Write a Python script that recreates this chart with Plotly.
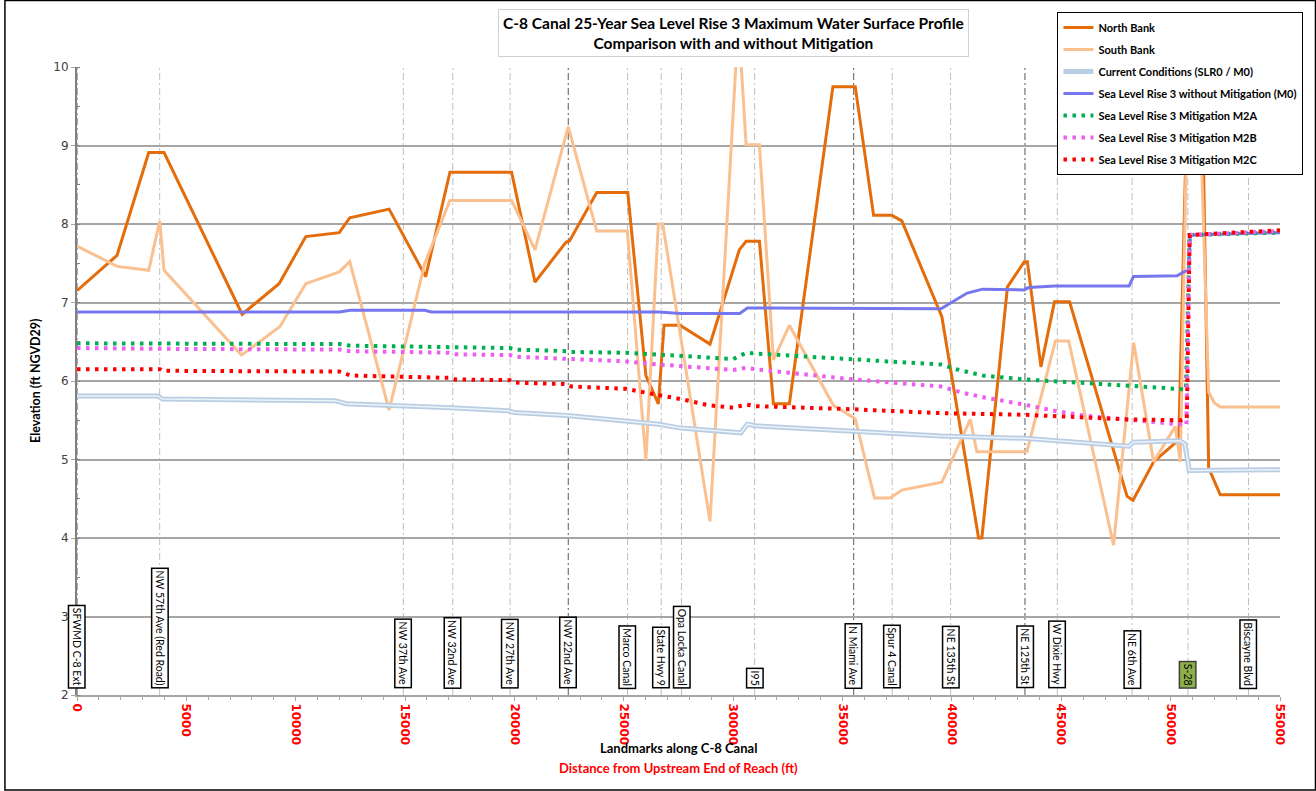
import plotly.graph_objects as go

# ---------------- data ----------------
north_x = [0, 1830, 3280, 3980, 7550, 9240, 10460, 11990, 12470, 14270, 15940, 17050, 19870, 20940,
           22360, 22510, 23760, 25180, 26010, 26580, 26840, 27570, 28940, 30280, 30590, 31200, 31840,
           32570, 34560, 35580, 36420, 37250, 37710, 39540, 41220, 41370, 42540, 43310, 43450, 44070,
           44690, 45380, 48010, 48280, 49220, 50370, 50760, 51450, 51740, 52270, 55000]
north_y = [7.15, 7.60, 8.91, 8.91, 6.85, 7.24, 7.84, 7.89, 8.08, 8.19, 7.33, 8.66, 8.66, 7.26,
           7.77, 7.78, 8.40, 8.40, 6.07, 5.71, 6.71, 6.71, 6.47, 7.67, 7.78, 7.78, 5.71,
           5.71, 9.75, 9.75, 8.11, 8.11, 8.04, 6.82, 4.00, 4.00, 7.20, 7.52, 7.52, 6.18,
           7.01, 7.01, 4.53, 4.48, 4.97, 5.25, 9.60, 9.60, 4.89, 4.55, 4.55]

south_x = [0, 1830, 3280, 3780, 3980, 7520, 9270, 10460, 11990, 12470, 14270, 15900, 17050, 19870,
           20940, 22460, 23760, 25160, 26010, 26580, 26780, 28940, 30240, 30590, 31200, 31840, 32570,
           34580, 35580, 36460, 37180, 37710, 39540, 40840, 41140, 43430, 44730, 45340, 47390, 48310,
           49220, 50210, 50440, 50780, 51300, 51740, 52000, 52270, 55000]
south_y = [7.72, 7.46, 7.41, 8.04, 7.41, 6.33, 6.69, 7.24, 7.39, 7.52, 5.63, 7.50, 8.30, 8.30,
           7.67, 9.24, 7.91, 7.91, 4.99, 8.00, 8.00, 4.21, 10.60, 9.01, 9.01, 6.27, 6.71,
           5.69, 5.52, 4.51, 4.51, 4.61, 4.71, 5.51, 5.10, 5.10, 6.51, 6.51, 3.91, 6.49,
           4.97, 5.42, 4.97, 9.80, 9.80, 5.86, 5.72, 5.67, 5.67]

current_x = [0, 3700, 3900, 11800, 12300, 14900, 15100, 17100, 19700, 20000, 22400, 25100, 26600,
             27600, 30200, 30350, 30650, 31000, 35500, 39500, 43300, 48100, 48300, 50400, 50650,
             50850, 55000]
current_y = [5.81, 5.81, 5.77, 5.75, 5.71, 5.69, 5.68, 5.66, 5.62, 5.60, 5.56, 5.49, 5.45,
             5.40, 5.35, 5.34, 5.45, 5.43, 5.36, 5.30, 5.27, 5.17, 5.22, 5.24, 5.20,
             4.86, 4.87]

m0_x = [0, 3800, 12000, 12500, 15900, 16200, 26600, 27600, 30300, 30650, 35500, 39500, 40700,
        41400, 43300, 43500, 44700, 48100, 48300, 50300, 50600, 50820, 50900, 55000]
m0_y = [6.88, 6.88, 6.88, 6.90, 6.90, 6.88, 6.88, 6.86, 6.86, 6.93, 6.92, 6.92, 7.12,
        7.17, 7.16, 7.19, 7.21, 7.21, 7.33, 7.34, 7.39, 7.41, 7.86, 7.89]

m2a_x = [0, 3800, 3900, 12000, 12500, 17000, 17300, 19800, 20000, 22400, 22600, 25100, 26600,
         27600, 30000, 30600, 31000, 35500, 39500, 40200, 41400, 43300, 44700, 48100, 50300,
         50700, 50870, 55000]
m2a_y = [6.48, 6.48, 6.47, 6.47, 6.45, 6.44, 6.43, 6.42, 6.40, 6.38, 6.37, 6.36, 6.33,
         6.32, 6.28, 6.36, 6.35, 6.27, 6.21, 6.15, 6.07, 6.02, 6.00, 5.94, 5.90,
         5.89, 7.86, 7.89]

m2b_x = [0, 3800, 3900, 12000, 12500, 15000, 17000, 17300, 19800, 20000, 22400, 25100, 26600,
         27600, 30000, 30600, 31000, 35500, 39500, 40500, 41500, 43300, 44700, 46000, 48100,
         50300, 50720, 50870, 55000]
m2b_y = [6.42, 6.42, 6.41, 6.40, 6.38, 6.37, 6.36, 6.34, 6.33, 6.31, 6.28, 6.25, 6.21,
         6.19, 6.14, 6.17, 6.15, 6.02, 5.93, 5.85, 5.79, 5.70, 5.62, 5.56, 5.51,
         5.45, 5.44, 7.86, 7.91]

m2c_x = [0, 3800, 3900, 12000, 12500, 15000, 17000, 17300, 19800, 20000, 22400, 22600, 25100,
         26600, 27600, 28900, 30000, 30600, 31000, 35500, 39500, 43300, 48100, 50500, 50740,
         50870, 55000]
m2c_y = [6.15, 6.15, 6.13, 6.12, 6.07, 6.06, 6.04, 6.02, 6.01, 5.98, 5.96, 5.93, 5.90,
         5.82, 5.77, 5.69, 5.66, 5.70, 5.68, 5.64, 5.59, 5.57, 5.51, 5.50, 5.52,
         7.86, 7.92]

landmark_names = ["SFWMD C-8 Ext", "NW 57th Ave (Red Road)", "NW 37th Ave", "NW 32nd Ave",
                  "NW 27th Ave", "NW 22nd Ave", "Marco Canal", "State Hwy 9", "Opa Locka Canal",
                  "I95", "N Miami Ave", "Spur 4 Canal", "NE 135th St", "NE 125th St",
                  "W Dixie Hwy", "NE 6th Ave", "S-28", "Biscayne Blvd"]
landmark_x = [0, 3780, 14920, 17180, 19800, 22460, 25170, 26710, 27640, 30980, 35510, 37270,
              39940, 43340, 44820, 48240, 50790, 53560]

x_ticks = list(range(0, 55001, 5000))
y_ticks = list(range(2, 11))

title_text = ("C-8 Canal 25-Year Sea Level Rise 3 Maximum Water Surface Profile<br>"
              "Comparison with and without Mitigation")

# ---------------- figure ----------------
FONT = "Lato"
fig = go.Figure()

# landmark dashed lines
dark_marks = {"NW 22nd Ave", "N Miami Ave", "NE 125th St", "SFWMD C-8 Ext"}
for name, lx in zip(landmark_names, landmark_x):
    fig.add_shape(type="line", xref="x", yref="y", x0=lx, x1=lx, y0=2, y1=10,
                  line=dict(color="#595959" if name in dark_marks else "#BFBFBF",
                            width=1, dash="7px,3px,2px,3px"), layer="below")

fig.add_trace(go.Scatter(x=north_x, y=north_y, mode="lines", name="North Bank",
                         line=dict(color="#E46C0A", width=3), legendgroup="a", legendrank=1))
fig.add_trace(go.Scatter(x=south_x, y=south_y, mode="lines", name="South Bank",
                         line=dict(color="#FAC090", width=3), legendgroup="b", legendrank=2))
fig.add_trace(go.Scatter(x=current_x, y=current_y, mode="lines", name="Current Conditions (SLR0 / M0)",
                         line=dict(color="#B9CDE5", width=5), legendgroup="c", legendrank=3))
fig.add_trace(go.Scatter(x=current_x, y=current_y, mode="lines", showlegend=False,
                         line=dict(color="#EEF3FA", width=1.5), legendgroup="c", hoverinfo="skip"))
fig.add_trace(go.Scatter(x=m0_x, y=m0_y, mode="lines", name="Sea Level Rise 3 without Mitigation (M0)",
                         line=dict(color="#7676EE", width=3), legendgroup="d", legendrank=4))
dot = "3.5px,5.5px"
fig.add_trace(go.Scatter(x=m2a_x, y=m2a_y, mode="lines", name="Sea Level Rise 3 Mitigation M2A",
                         line=dict(color="#00B050", width=4, dash=dot), legendgroup="e", legendrank=5))
fig.add_trace(go.Scatter(x=m2b_x, y=m2b_y, mode="lines", name="Sea Level Rise 3 Mitigation M2B",
                         line=dict(color="#EE5CF0", width=4, dash=dot), legendgroup="f", legendrank=6))
fig.add_trace(go.Scatter(x=m2c_x, y=m2c_y, mode="lines", name="Sea Level Rise 3 Mitigation M2C",
                         line=dict(color="#FF0000", width=4, dash=dot), legendgroup="g", legendrank=7))

# landmark label boxes
for name, lx in zip(landmark_names, landmark_x):
    is_s28 = name == "S-28"
    fig.add_annotation(x=lx, y=2.08, xref="x", yref="y", text=name, showarrow=False,
                       textangle=90, xanchor="center", yanchor="bottom",
                       font=dict(family=FONT, size=10.5, color="#000000"),
                       bgcolor="#8DB04A" if is_s28 else "white",
                       bordercolor="#404040" if is_s28 else "#000000", borderwidth=1.5, borderpad=1.5)

# chart title
fig.add_annotation(x=0.546, y=1.093, xref="paper", yref="paper", text=title_text,
                   showarrow=False, xanchor="center", yanchor="top",
                   font=dict(family=FONT, size=15.5, color="#000000", weight="bold"),
                   bgcolor="white", bordercolor="#D0D0D0", borderwidth=1, borderpad=4)

# axis titles
fig.add_annotation(x=-0.0349, y=0.5, xref="paper", yref="paper", text="Elevation (ft NGVD29)",
                   showarrow=False, textangle=-90, xanchor="center", yanchor="middle",
                   font=dict(family=FONT, size=12.5, color="#000000", weight="bold"))
fig.add_annotation(x=0.5, y=-0.0844, xref="paper", yref="paper", text="Landmarks along C-8 Canal",
                   showarrow=False, xanchor="center", yanchor="middle",
                   font=dict(family=FONT, size=13, color="#000000", weight="bold"))
fig.add_annotation(x=0.5, y=-0.1162, xref="paper", yref="paper",
                   text="Distance from Upstream End of Reach (ft)",
                   showarrow=False, xanchor="center", yanchor="middle",
                   font=dict(family=FONT, size=13, color="#FF0000", weight="bold"))

# outer frame
fig.add_shape(type="rect", xref="paper", yref="paper", x0=-0.0599, x1=1.0295, y0=-0.1513, y1=1.1059,
              line=dict(color="#000000", width=1.5), fillcolor="rgba(0,0,0,0)")

fig.update_layout(
    width=1316, height=791,
    margin=dict(l=77, r=36, t=67, b=96),
    paper_bgcolor="white", plot_bgcolor="white",
    showlegend=True,
    legend=dict(x=1.0195, y=1.0875, xanchor="right", yanchor="top",
                bgcolor="white", bordercolor="#000000", borderwidth=1,
                font=dict(family=FONT, size=11, color="#000000", weight="bold"),
                traceorder="grouped", tracegroupgap=3, itemwidth=30),
    xaxis=dict(range=[0, 55000], tickvals=x_ticks, ticktext=[str(v) for v in x_ticks],
               tickangle=90, showgrid=False, zeroline=False,
               showline=True, linecolor="#A6A6A6", linewidth=2,
               ticks="outside", ticklen=4, tickcolor="#A6A6A6",
               minor=dict(dtick=1000, ticks="outside", ticklen=3, tickcolor="#A6A6A6"),
               tickfont=dict(family="DejaVu Sans", size=12, color="#FF0000", weight="bold")),
    yaxis=dict(range=[2, 10], tickvals=y_ticks, showgrid=True, gridcolor="#A6A6A6", gridwidth=1.5,
               zeroline=False, showline=True, linecolor="#808080", linewidth=2,
               ticks="outside", ticklen=4, tickcolor="#A6A6A6",
               minor=dict(dtick=0.5, ticks="inside", ticklen=3, tickcolor="#808080", showgrid=False),
               tickfont=dict(family="DejaVu Sans", size=12, color="#404040")),
)

fig.write_html("out.html")
